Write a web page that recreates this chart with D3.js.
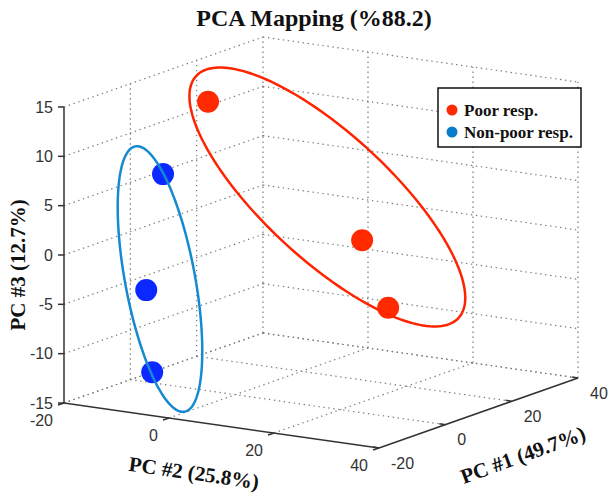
<!DOCTYPE html>
<html><head><meta charset="utf-8">
<script src="https://cdn.jsdelivr.net/npm/d3@7"></script>
<style>body{margin:0;background:#fff}svg{display:block}</style>
</head><body>
<svg id="c" width="613" height="495"></svg>
<script>
// ---- data ----
const pc1Ticks = [-20, 0, 20, 40];
const pc2Ticks = [-20, 0, 20, 40];
const pc3Ticks = [-15, -10, -5, 0, 5, 10, 15];
const seriesNames = ["Poor resp.", "Non-poor resp."];
const poorPC1 = [0, 30, 35];
const poorPC2 = [-5.2, 5.2, 7.0];
const poorPC3 = [14.3, -2.5, -9.8];
const nonPoorPC1 = [-15, -18, -20];
const nonPoorPC2 = [-4.3, -5.6, -3.2];
const nonPoorPC3 = [8.8, -2.7, -10.6];
// confidence ellipses: centre and two semi-axis vectors (PC1, PC2, PC3)
const poorEllipseCenter = [24.1, 2.3, 2.36];
const poorEllipseAxes = [[39.55, 0, -16.94], [-12.84, 0, -3.16]];
const nonPoorEllipseCenter = [-17.7, -3.17, -1.43];
const nonPoorEllipseAxes = [[0, 4.69, -13.09], [0, -6.55, -1.15]];
const titleText = "PCA Mapping (%88.2)";
const labelPC1 = "PC #1 (49.7%)", labelPC2 = "PC #2 (25.8%)", labelPC3 = "PC #3 (12.7%)";

// ---- projection (orthographic 3D view) ----
const s1 = d3.scaleLinear().domain([-20, 40]).range([0, 1]);
const s2 = d3.scaleLinear().domain([-20, 40]).range([0, 1]);
const s3 = d3.scaleLinear().domain([-15, 15]).range([0, 1]);
const O = [64, 403], E1 = [199, -70], E2 = [315, 45], H = 296;
function P(a, b, c) {
  const u = s1(a), v = s2(b), w = s3(c);
  return [O[0] + u * E1[0] + v * E2[0], O[1] + u * E1[1] + v * E2[1] - w * H];
}
const svg = d3.select("#c");
const gGrid = svg.append("g").attr("fill", "none").attr("stroke", "#7a7a7a")
  .attr("stroke-width", 1.2).attr("stroke-dasharray", "1.4,3.6");
function seg(g, a, b) { g.append("line").attr("x1", a[0]).attr("y1", a[1]).attr("x2", b[0]).attr("y2", b[1]); }
const [x0, x1] = s1.domain(), [y0, y1] = s2.domain(), [z0, z1] = s3.domain();
// left back wall (PC2 = min)
pc3Ticks.forEach(z => seg(gGrid, P(x0, y0, z), P(x1, y0, z)));
pc1Ticks.filter(t => t !== x0).forEach(t => seg(gGrid, P(t, y0, z0), P(t, y0, z1)));
// right back wall (PC1 = max)
pc3Ticks.forEach(z => seg(gGrid, P(x1, y0, z), P(x1, y1, z)));
pc2Ticks.filter(t => t !== y0).forEach(t => seg(gGrid, P(x1, t, z0), P(x1, t, z1)));
// floor
pc1Ticks.filter(t => t !== x0).forEach(t => seg(gGrid, P(t, y0, z0), P(t, y1, z0)));
pc2Ticks.filter(t => t !== y1).forEach(t => seg(gGrid, P(x0, t, z0), P(x1, t, z0)));

// axes
const gAx = svg.append("g").attr("stroke", "#333").attr("stroke-width", 1.5).attr("fill", "none");
seg(gAx, P(x0, y0, z0), P(x0, y0, z1));
seg(gAx, P(x0, y0, z0), P(x0, y1, z0));
seg(gAx, P(x0, y1, z0), P(x1, y1, z0));
const tickFont = "'Liberation Sans', Arial, sans-serif";
const gT = svg.append("g").attr("font-family", tickFont).attr("font-size", 16).attr("fill", "#333");
pc3Ticks.forEach(t => {
  const p = P(x0, y0, t);
  seg(gAx, p, [p[0] - 6, p[1]]);
  gT.append("text").attr("x", p[0] - 11).attr("y", p[1]).attr("text-anchor", "end")
    .attr("dominant-baseline", "central").text(t);
});
pc2Ticks.forEach(t => {
  const p = P(x0, t, z0);
  seg(gAx, p, [p[0] - 6, p[1] + 2]);
  gT.append("text").attr("x", p[0] - 11).attr("y", p[1] + 17).attr("text-anchor", "end")
    .attr("dominant-baseline", "central").text(t);
});
pc1Ticks.forEach(t => {
  const p = P(t, y1, z0);
  seg(gAx, p, [p[0] - 6, p[1] - 1]);
  gT.append("text").attr("x", p[0] + 12).attr("y", p[1] + 15).attr("text-anchor", "start")
    .attr("dominant-baseline", "central").text(t);
});

// points
const colorPoor = "#ff2a00", colorNon = "#0a28ff";
const poor = poorPC1.map((d, i) => [d, poorPC2[i], poorPC3[i]]);
const non = nonPoorPC1.map((d, i) => [d, nonPoorPC2[i], nonPoorPC3[i]]);
svg.append("g").selectAll("circle").data(poor).join("circle")
  .attr("cx", d => P(...d)[0]).attr("cy", d => P(...d)[1]).attr("r", 11).attr("fill", colorPoor);
svg.append("g").selectAll("circle").data(non).join("circle")
  .attr("cx", d => P(...d)[0]).attr("cy", d => P(...d)[1]).attr("r", 11).attr("fill", colorNon);

// ellipses
const ts = d3.range(0, 2 * Math.PI, Math.PI / 90);
function ell(c, ax) {
  return ts.map(t => P(c[0] + Math.cos(t) * ax[0][0] + Math.sin(t) * ax[1][0],
                       c[1] + Math.cos(t) * ax[0][1] + Math.sin(t) * ax[1][1],
                       c[2] + Math.cos(t) * ax[0][2] + Math.sin(t) * ax[1][2]));
}
const line = d3.line().curve(d3.curveLinearClosed);
svg.append("path").attr("d", line(ell(poorEllipseCenter, poorEllipseAxes)))
  .attr("fill", "none").attr("stroke", "#ff2400").attr("stroke-width", 2.5);
svg.append("path").attr("d", line(ell(nonPoorEllipseCenter, nonPoorEllipseAxes)))
  .attr("fill", "none").attr("stroke", "#168ad0").attr("stroke-width", 2.5);

// labels
const serif = "'Liberation Serif', 'Times New Roman', serif";
svg.append("text").attr("x", 314).attr("y", 26).attr("text-anchor", "middle")
  .attr("font-family", serif).attr("font-weight", "bold").attr("font-size", 24).attr("fill", "#111")
  .text(titleText);
function axLabel(x, y, rot, txt) {
  svg.append("text").attr("transform", `translate(${x},${y}) rotate(${rot})`)
    .attr("text-anchor", "middle").attr("dominant-baseline", "central")
    .attr("font-family", serif).attr("font-weight", "bold").attr("font-size", 21).attr("fill", "#111")
    .text(txt);
}
axLabel(18, 265, -90, labelPC3);
axLabel(194, 473, 8, labelPC2);
axLabel(523, 455, -20, labelPC1);

// legend
const lg = svg.append("g");
lg.append("rect").attr("x", 438).attr("y", 88).attr("width", 143).attr("height", 59)
  .attr("fill", "#fff").attr("stroke", "#111").attr("stroke-width", 1.5);
const legColors = ["#ff2a00", "#0a7ccc"];
seriesNames.forEach((n, i) => {
  lg.append("circle").attr("cx", 452).attr("cy", 110 + i * 22).attr("r", 5.5).attr("fill", legColors[i]);
  lg.append("text").attr("x", 464).attr("y", 110 + i * 22).attr("dominant-baseline", "central")
    .attr("font-family", serif).attr("font-weight", "bold").attr("font-size", 17).attr("fill", "#111").text(n);
});
</script>
</body></html>
